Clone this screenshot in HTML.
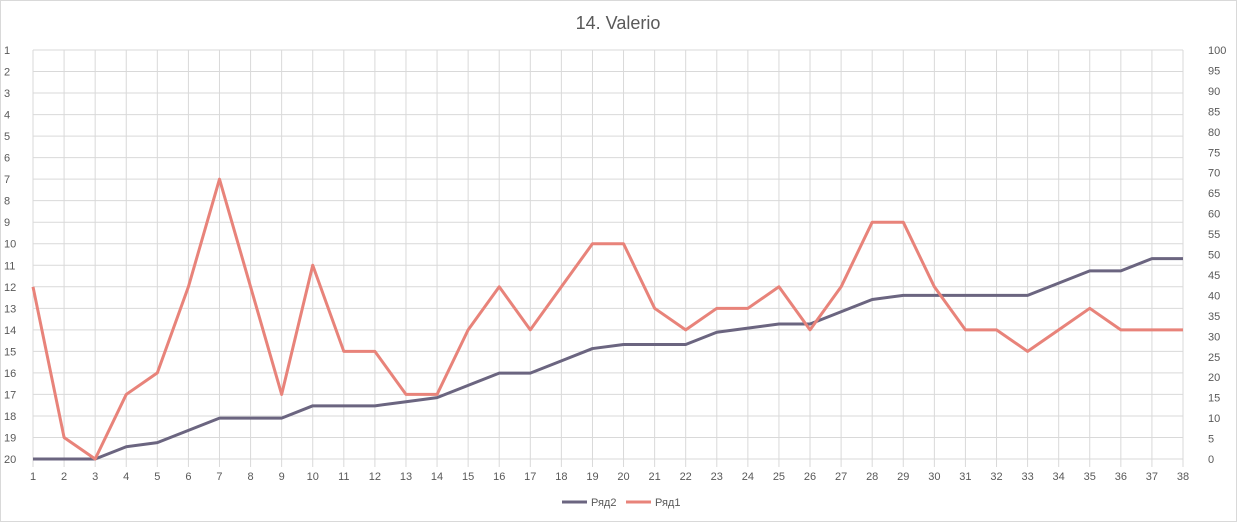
<!DOCTYPE html>
<html><head><meta charset="utf-8"><style>
html,body{margin:0;padding:0;background:#fff}
svg{display:block;font-family:"Liberation Sans",sans-serif}
</style></head><body>
<svg id="chart" width="1237" height="522" viewBox="0 0 1237 522">
<rect x="0.5" y="0.5" width="1236" height="521" fill="#fff" stroke="#d9d9d9"/>
<text x="618" y="29" text-anchor="middle" font-size="18" fill="#595959">14. Valerio</text>
<g id="grid"></g><g id="axes"></g><g id="series"></g>
<g>
<line x1="562" y1="502" x2="587" y2="502" stroke="#6b6580" stroke-width="3"/>
<text x="591" y="506" font-size="11" fill="#595959">Ряд2</text>
<line x1="626" y1="502" x2="651" y2="502" stroke="#e8837a" stroke-width="3"/>
<text x="655" y="506" font-size="11" fill="#595959">Ряд1</text>
</g>
</svg>
<script>
const categories = Array.from({length:38},(_,i)=>String(i+1));
const row1Ranks = [12,19,20,17,16,12,7,12,17,11,15,15,17,17,14,12,14,12,10,10,13,14,13,13,12,14,12,9,9,12,14,14,15,14,13,14,14,14];
const row2Points = [0,0,0,3,4,7,10,10,10,13,13,13,14,15,18,21,21,24,27,28,28,28,31,32,33,33,36,39,40,40,40,40,40,43,46,46,49,49];
const leftTicks = Array.from({length:20},(_,i)=>i+1);
const rightTicks = Array.from({length:21},(_,i)=>i*5);

const NS="http://www.w3.org/2000/svg";
const L=33,R=1183,T=50,B=459;
const x=i=>L+(R-L)*i/(categories.length-1);
const yL=v=>T+(B-T)*(v-1)/19;
const yR=v=>B-(B-T)*v/100;
function mk(tag,attrs,parent){const e=document.createElementNS(NS,tag);for(const k in attrs)e.setAttribute(k,attrs[k]);parent.appendChild(e);return e;}
const grid=document.getElementById('grid'),axes=document.getElementById('axes'),series=document.getElementById('series');
leftTicks.forEach(v=>{
  const g=mk('line',{x1:L,x2:R,y1:yL(v),y2:yL(v),stroke:'#d9d9d9','stroke-width':1},grid);
  
  
  const t=mk('text',{x:4,y:yL(v)+4,'font-size':11,fill:'#595959'},axes);
  t.textContent=v;
  
  
});
rightTicks.forEach(v=>{
  const t=mk('text',{x:1208,y:yR(v)+4,'font-size':11,fill:'#595959'},axes);
  t.textContent=v;
  
  
});
categories.forEach((c,i)=>{
  const g=mk('line',{x1:x(i),x2:x(i),y1:T,y2:467,stroke:'#d9d9d9','stroke-width':1},grid);
  
  
  const t=mk('text',{x:x(i),y:480,'font-size':11,fill:'#595959','text-anchor':'middle'},axes);
  t.textContent=c;
  
  
});
const p2=mk('polyline',{points:row2Points.map((v,i)=>x(i)+','+yR(v)).join(' '),fill:'none',stroke:'#6b6580','stroke-width':3,'stroke-linejoin':'round'},series);


const p1=mk('polyline',{points:row1Ranks.map((v,i)=>x(i)+','+yL(v)).join(' '),fill:'none',stroke:'#e8837a','stroke-width':3,'stroke-linejoin':'round'},series);


</script>
</body></html>
